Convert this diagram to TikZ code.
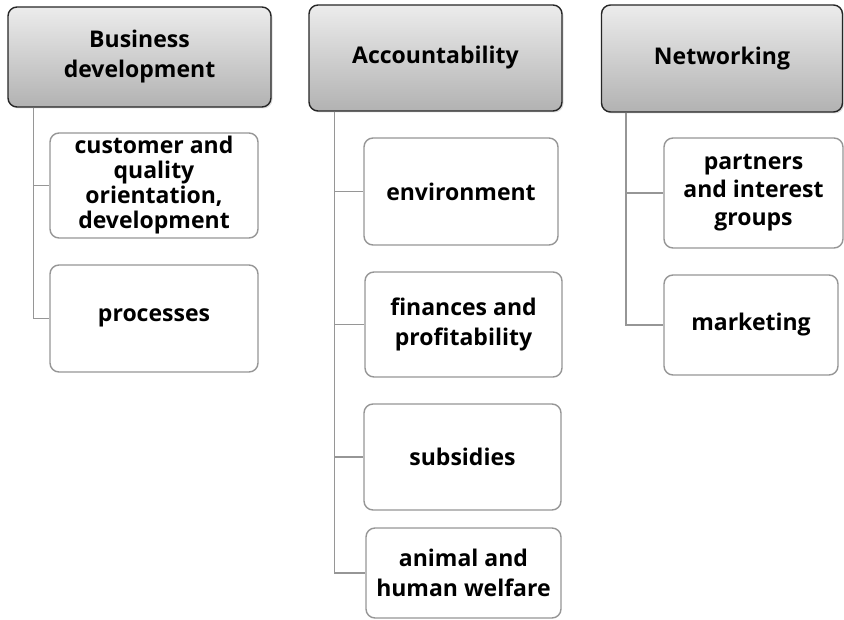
\documentclass[tikz,border=0pt]{standalone}
\usepackage{fontspec}
\setmainfont{Open Sans}
\usepackage{tikz}
\usetikzlibrary{shadows}
\definecolor{boxgray}{RGB}{150,150,150}
\definecolor{headtop}{RGB}{236,236,236}
\definecolor{headbottom}{RGB}{178,178,178}

\begin{document}
\begin{tikzpicture}[x=1pt, y=-1pt,
		head/.style={draw=black!85, line width=1.4pt, rounded corners=9pt, top color=headtop, bottom color=headbottom,
			align=center, font=\bfseries\fontsize{23}{30}\selectfont, inner sep=0pt,
			drop shadow={opacity=0.25, shadow xshift=1.5pt, shadow yshift=-1.5pt}},
		leaf/.style={draw=boxgray, line width=1.4pt, rounded corners=9pt, fill=white,
			align=center, font=\bfseries\fontsize{23}{30}\selectfont, inner sep=0pt},
		link/.style={draw=boxgray, line width=1.6pt}]
	%Bildbereich
	\useasboundingbox (0,0) rectangle (844,620);
	% Kopfzeilen
	\node[head, minimum width=263, minimum height=100] (bd)  at (139.5,57) {Business\\development};
	\node[head, minimum width=253, minimum height=106] (acc) at (435.5,58) {Accountability};
	\node[head, minimum width=241, minimum height=107] (net) at (722,58.5) {Networking};
	% Business development
	\node[leaf, minimum width=208, minimum height=105, font=\bfseries\fontsize{23}{25}\selectfont] (cust) at (154,185.5) {customer and\\quality\\orientation,\\development};
	\node[leaf, minimum width=208, minimum height=107] (proc) at (154,318.5) {\raisebox{6pt}{processes}};
	% Accountability
	\node[leaf, minimum width=194, minimum height=107] (env) at (461,191.5) {environment};
	\node[leaf, minimum width=197, minimum height=105] (fin) at (463.5,324.5) {\raisebox{-3pt}{finances and}\\\raisebox{-3pt}{profitability}};
	\node[leaf, minimum width=197, minimum height=106] (sub) at (462.5,457) {subsidies};
	\node[leaf, minimum width=195, minimum height=90]  (ani) at (463.5,573) {animal and\\human welfare};
	% Networking
	\node[leaf, minimum width=179, minimum height=110, font=\bfseries\fontsize{23}{28}\selectfont] (part) at (753.5,193) {partners\\and interest\\groups};
	\node[leaf, minimum width=174, minimum height=100] (mark) at (751,325) {\raisebox{-3pt}{marketing}};
	% Verbindungen
	\draw[link] (bd.south west) ++(26,0) |- (cust.west);
	\draw[link] (bd.south west) ++(26,0) |- (proc.west);
	\foreach \n in {env,fin,sub,ani} \draw[link] (acc.south west) ++(26,0) |- (\n.west);
	\foreach \n in {part,mark} \draw[link] (net.south west) ++(25,0) |- (\n.west);
\end{tikzpicture}
\end{document}
